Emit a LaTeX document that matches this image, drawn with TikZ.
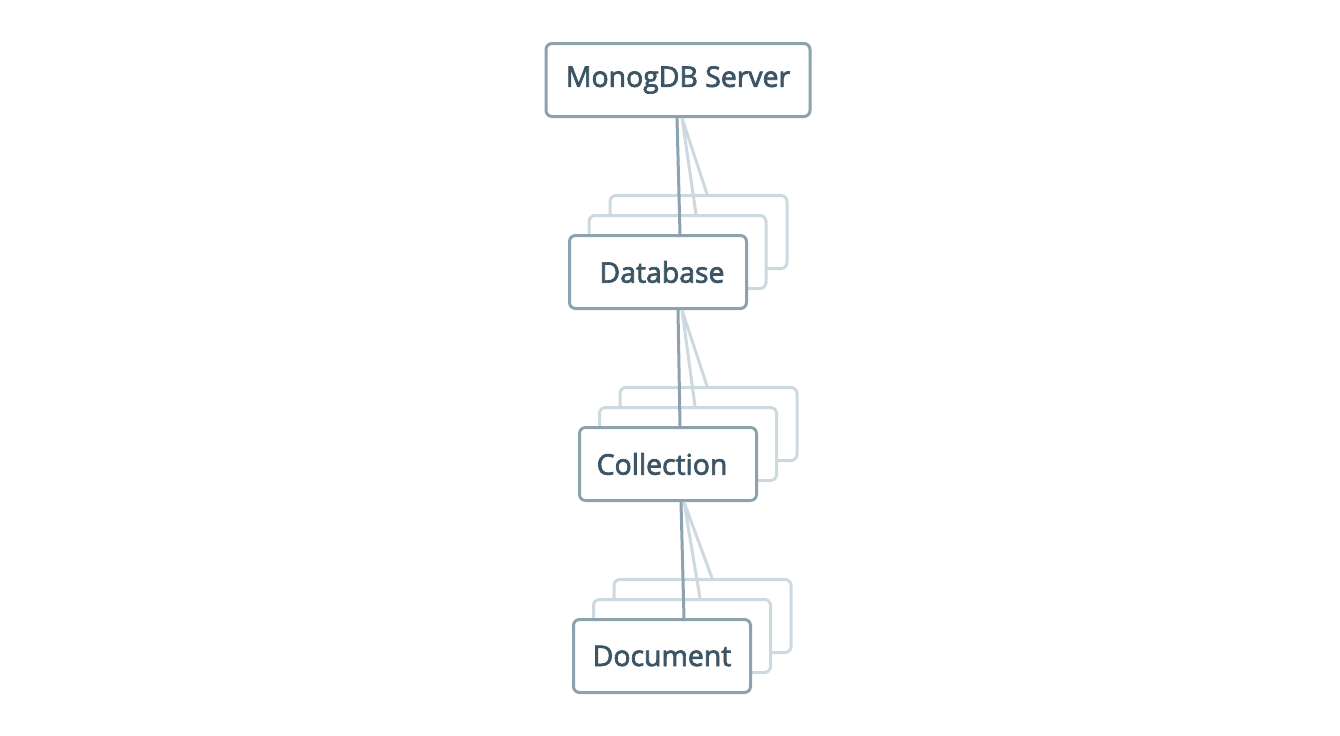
\documentclass[tikz,border=0pt]{standalone}
\usepackage{fontspec}
\setmainfont{Open Sans}[UprightFeatures={FakeBold=2.5}]
\usetikzlibrary{calc}
\definecolor{rim}{HTML}{8DA2AF}
\definecolor{pale}{HTML}{CCD9DE}
\definecolor{ink}{HTML}{3C5566}

\begin{document}
\begin{tikzpicture}[x=0.75pt,y=-0.75pt,line width=2.25pt,
            box/.style={draw=rim,fill=white,rounded corners=4.5pt,text=ink,
              font=\fontsize{21.3}{25}\selectfont,inner sep=0pt,
              minimum width=132.75pt,minimum height=54.75pt},
            back/.style={box,draw=pale}]
            \useasboundingbox(0,0)rectangle(1340,736);
            \node[box,minimum width=198pt](srv)at(678,80){MonogDB Server};
            \node[back](db3)at(698.5,232){};
            \node[back](db2)at(677.5,252){};
            \node[box](db)at(658,272){\kern6pt Database};
            \node[back](col3)at(708.5,424){};
            \node[back](col2)at(688,444){};
            \node[box](col)at(668,464){Collection\kern9pt};
            \node[back](doc3)at(702.5,616){};
            \node[back](doc2)at(682,636){};
            \node[box](doc)at(662,656){Document};
            \draw[pale]($(srv.south)+(4,0)$)--($(db3.north)+(8.5,0)$)
              ($(srv.south)+(4,0)$)--($(db2.north)+(18.5,0)$);
            \draw[rim]($(srv.south)+(-1,0)$)--($(db.north)+(22,0)$);
            \draw[pale]($(db.south)+(24,0)$)--($(col3.north)+(-1.5,0)$)
              ($(db.south)+(24,0)$)--($(col2.north)+(7,0)$);
            \draw[rim]($(db.south)+(20,0)$)--($(col.north)+(12,0)$);
            \draw[pale]($(col.south)+(16,0)$)--($(doc3.north)+(9.5,0)$)
              ($(col.south)+(16,0)$)--($(doc2.north)+(18,0)$);
            \draw[rim]($(col.south)+(13,0)$)--($(doc.north)+(22,0)$);
          \end{tikzpicture}
\end{document}
